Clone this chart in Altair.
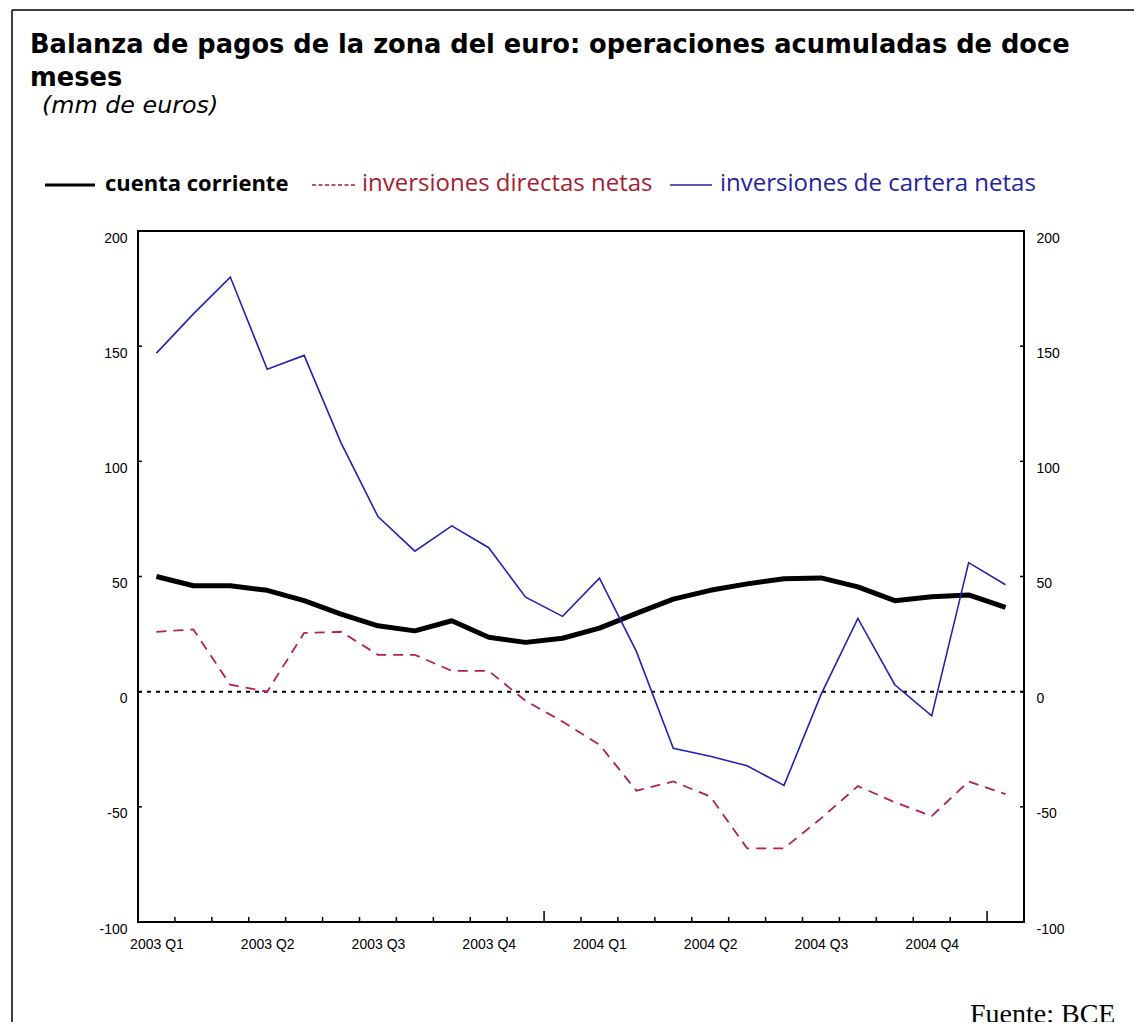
import altair as alt
import pandas as pd

# ---------------- data ----------------
periods = ["2003-02", "2003-03", "2003-04", "2003-05", "2003-06", "2003-07",
           "2003-08", "2003-09", "2003-10", "2003-11", "2003-12", "2004-01",
           "2004-02", "2004-03", "2004-04", "2004-05", "2004-06", "2004-07",
           "2004-08", "2004-09", "2004-10", "2004-11", "2004-12", "2005-01"]
quarter_labels = ["2003 Q1", "2003 Q2", "2003 Q3", "2003 Q4",
                  "2004 Q1", "2004 Q2", "2004 Q3", "2004 Q4"]
series_names = ["cuenta corriente", "inversiones directas netas",
                "inversiones de cartera netas"]
cuenta_corriente = [50, 46, 46, 44, 39.5, 33.7, 28.6, 26.4, 30.8, 23.6, 21.4, 23.2,
                    27.6, 34, 40.2, 44, 46.8, 49, 49.4, 45.5, 39.5, 41.2, 42, 36.6]
inv_directas = [26, 27, 3, 0, 25.5, 26, 16, 16, 9, 9, -4, -13,
                -23, -43, -39, -45.5, -68, -68, -55, -41, -48, -54, -39, -44.5]
inv_cartera = [147, 164, 180, 140, 146, 108, 76, 61, 72, 62.5, 41, 32.7,
               49.3, 17.5, -24.6, -28, -32.2, -40.7, -1.3, 31.8, 3, -10.5, 56, 46.4]
y_ticks = [-100, -50, 0, 50, 100, 150, 200]
title_lines = ["Balanza de pagos de la zona del euro: operaciones acumuladas de doce", "meses"]
subtitle = "(mm de euros)"
source_note = "Fuente: BCE"

# ---------------- layout constants ----------------
W, H = 886, 691
FONT = "Open Sans"
TFONT = "DejaVu Sans"
AXFONT = "Liberation Sans"
BLACK = "#000000"
RED_LINE = "#B2224C"
RED_TXT = "#A51E32"
BLUE_LINE = "#2323AE"
BLUE_TXT = "#23239E"

idx = list(range(len(periods)))
df_cc = pd.DataFrame({"idx": idx, "value": cuenta_corriente, "period": periods})
df_id = pd.DataFrame({"idx": idx, "value": inv_directas, "period": periods})
df_ic = pd.DataFrame({"idx": idx, "value": inv_cartera, "period": periods})

qmid = [i for i, p in enumerate(periods) if p[5:] in ("02", "05", "08", "11")][:len(quarter_labels)]
label_expr = "[" + ",".join("'%s'" % q for q in quarter_labels) + "][floor(datum.value/3)]"
ylab_expr = "datum.value < 0 ? '-' + abs(datum.value) : '' + datum.value"

xscale = alt.Scale(domain=[-0.5, len(periods) - 0.5], nice=False, zero=False)
yscale = alt.Scale(domain=[y_ticks[0], y_ticks[-1]], nice=False, zero=False)

x_axis = alt.Axis(values=qmid, labelExpr=label_expr, ticks=False, domain=False,
                  grid=False, labelPadding=15, labelFont=AXFONT, labelFontSize=14,
                  labelColor="black", title=None, orient="bottom")
y_left = alt.Axis(values=y_ticks, labelExpr=ylab_expr, ticks=False, domain=False, grid=False,
                  labelPadding=11, labelOffset=7, labelFont=AXFONT, labelFontSize=14,
                  labelColor="black", title=None, orient="left")
y_right = alt.Axis(values=y_ticks, labelExpr=ylab_expr, ticks=False, domain=False, grid=False,
                   labelPadding=12, labelOffset=7, labelFont=AXFONT, labelFontSize=14,
                   labelColor="black", title=None, orient="right")

X = alt.X("idx:Q", scale=xscale, axis=x_axis)
Xn = alt.X("idx:Q", scale=xscale, axis=None)

line_cc = alt.Chart(df_cc).mark_line(color=BLACK, strokeWidth=5, strokeJoin="round").encode(
    x=X, y=alt.Y("value:Q", scale=yscale, axis=y_left))
line_id = alt.Chart(df_id).mark_line(color=RED_LINE, strokeWidth=1.8, strokeDash=[10, 7]).encode(
    x=Xn, y=alt.Y("value:Q", scale=yscale, axis=None))
line_ic = alt.Chart(df_ic).mark_line(color=BLUE_LINE, strokeWidth=1.6).encode(
    x=Xn, y=alt.Y("value:Q", scale=yscale, axis=None))

# zero reference line
zero = alt.Chart(pd.DataFrame({"v": [0]})).mark_rule(
    color="black", strokeWidth=2, strokeDash=[4, 5]).encode(
    y=alt.Y("v:Q", scale=yscale, axis=y_right))

# inward y ticks on both sides
df_yt = pd.DataFrame({"v": y_ticks[1:-1]})
ytick_l = alt.Chart(df_yt).mark_rule(color="black", strokeWidth=1.5).encode(
    y=alt.Y("v:Q", scale=yscale, axis=None), x=alt.value(0), x2=alt.value(4))
ytick_r = alt.Chart(df_yt).mark_rule(color="black", strokeWidth=1.5).encode(
    y=alt.Y("v:Q", scale=yscale, axis=None), x=alt.value(W - 4), x2=alt.value(W))

# x ticks at month boundaries, taller at year boundaries
bounds = [i + 0.5 for i in range(len(periods) - 1)]
is_year = [periods[i][5:] == "12" for i in range(len(periods) - 1)]
df_b = pd.DataFrame({"b": bounds, "year": is_year})
xtick_m = alt.Chart(df_b[~df_b["year"]]).mark_rule(color="black", strokeWidth=1.5).encode(
    x=alt.X("b:Q", scale=xscale, axis=None), y=alt.value(H), y2=alt.value(H - 5))
xtick_y = alt.Chart(df_b[df_b["year"]]).mark_rule(color="black", strokeWidth=1.5).encode(
    x=alt.X("b:Q", scale=xscale, axis=None), y=alt.value(H), y2=alt.value(H - 11))

# title texts
def text_layer(txt, x, y, **kw):
    return alt.Chart(pd.DataFrame({"t": [txt]})).mark_text(
        align="left", baseline="alphabetic", **kw).encode(
        text="t:N", x=alt.value(x), y=alt.value(y))

title1 = text_layer(title_lines[0], -108, -178, font=TFONT, fontSize=25.7, fontWeight="bold", color="black")
title2 = text_layer(title_lines[1], -108, -145, font=TFONT, fontSize=25.7, fontWeight="bold", color="black")
subt = text_layer(subtitle, -96, -118, font=TFONT, fontSize=23.8, fontStyle="italic", color="black")

# custom legend (above plot)
LEG_Y = -46
LEG_BASE = -40
one = pd.DataFrame({"k": [0]})
leg_sym1 = alt.Chart(one).mark_rule(color=BLACK, strokeWidth=3).encode(
    x=alt.value(-93), x2=alt.value(-43), y=alt.value(LEG_Y))
leg_sym2 = alt.Chart(one).mark_rule(color=RED_TXT, strokeWidth=1.5, strokeDash=[4, 2.5]).encode(
    x=alt.value(174), x2=alt.value(218), y=alt.value(LEG_Y))
leg_sym3 = alt.Chart(one).mark_rule(color=BLUE_TXT, strokeWidth=1.5).encode(
    x=alt.value(532), x2=alt.value(574), y=alt.value(LEG_Y))
leg_t1 = text_layer(series_names[0], -33, LEG_BASE, font=FONT, fontSize=22, fontWeight="bold", color=BLACK)
leg_t2 = text_layer(series_names[1], 224, LEG_BASE, font=FONT, fontSize=24, color=RED_TXT)
leg_t3 = text_layer(series_names[2], 582, LEG_BASE, font=FONT, fontSize=24, color=BLUE_TXT)

# source note
source = text_layer(source_note, 832, 792, font="Liberation Serif", fontSize=28, color="black")

# outer frame
frame_top = alt.Chart(one).mark_rule(color="black", strokeWidth=1.5).encode(
    x=alt.value(-126), x2=alt.value(1010), y=alt.value(-221))
frame_left = alt.Chart(one).mark_rule(color="black", strokeWidth=1.5).encode(
    x=alt.value(-126), y=alt.value(-221), y2=alt.value(800))

chart = alt.layer(
    line_cc, zero, line_id, line_ic,
    ytick_l, ytick_r, xtick_m, xtick_y,
    title1, title2, subt,
    leg_sym1, leg_sym2, leg_sym3, leg_t1, leg_t2, leg_t3,
    source, frame_top, frame_left
).resolve_axis(y="independent", x="independent").properties(
    width=W, height=H,
    autosize=alt.AutoSizeParams(type="none"),
    padding={"left": 130, "top": 223, "right": 110, "bottom": 100},
).configure_view(stroke="black", strokeWidth=2)

chart.save("out.html", embed_options={"renderer": "svg", "actions": False})
